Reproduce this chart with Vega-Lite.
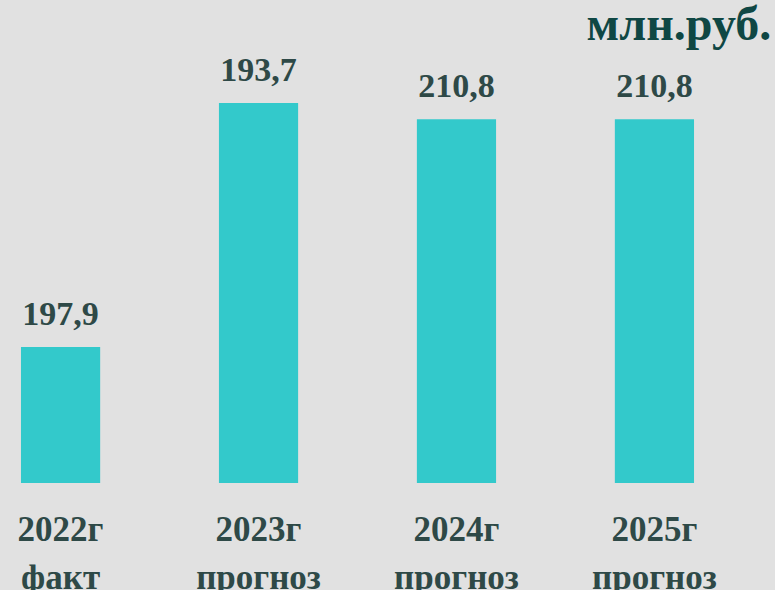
{
  "$schema": "https://vega.github.io/schema/vega-lite/v6.json",
  "width": 715,
  "height": 483,
  "autosize": "none",
  "padding": {"left": 0, "top": 0, "right": 60, "bottom": 107},
  "background": "#e1e1e1",
  "title": {
    "text": "млн.руб.",
    "anchor": "end",
    "orient": "top",
    "offset": -88,
    "dx": 55,
    "baseline": "alphabetic",
    "font": "Liberation Serif",
    "fontSize": 48,
    "fontWeight": "bold",
    "color": "#0f4744"
  },
  "data": {
    "values": [
      {"year": "2022г\nфакт", "value": "197,9", "bar": 78.8},
      {"year": "2023г\nпрогноз", "value": "193,7", "bar": 220.3},
      {"year": "2024г\nпрогноз", "value": "210,8", "bar": 210.8},
      {"year": "2025г\nпрогноз", "value": "210,8", "bar": 210.8}
    ]
  },
  "encoding": {
    "x": {
      "field": "year",
      "type": "nominal",
      "sort": null,
      "scale": {"paddingInner": 0.6, "paddingOuter": 0.106},
      "axis": {
        "title": null,
        "domain": false,
        "ticks": false,
        "labelAngle": 0,
        "labelExpr": "split(datum.label, '\\n')",
        "labelFont": "Liberation Serif",
        "labelFontSize": 35,
        "labelFontWeight": "bold",
        "labelColor": "#2e4947",
        "labelPadding": 29,
        "labelLineHeight": 48,
        "labelBaseline": "top"
      }
    },
    "y": {
      "field": "bar",
      "type": "quantitative",
      "scale": {"domain": [0, 280]},
      "axis": null
    }
  },
  "layer": [
    {"mark": {"type": "bar", "color": "#33c9cb"}},
    {
      "mark": {
        "type": "text",
        "dy": -22,
        "baseline": "alphabetic",
        "font": "Liberation Serif",
        "fontSize": 34,
        "fontWeight": "bold",
        "color": "#2e4947"
      },
      "encoding": {"text": {"field": "value"}}
    }
  ],
  "config": {"view": {"stroke": null}}
}
